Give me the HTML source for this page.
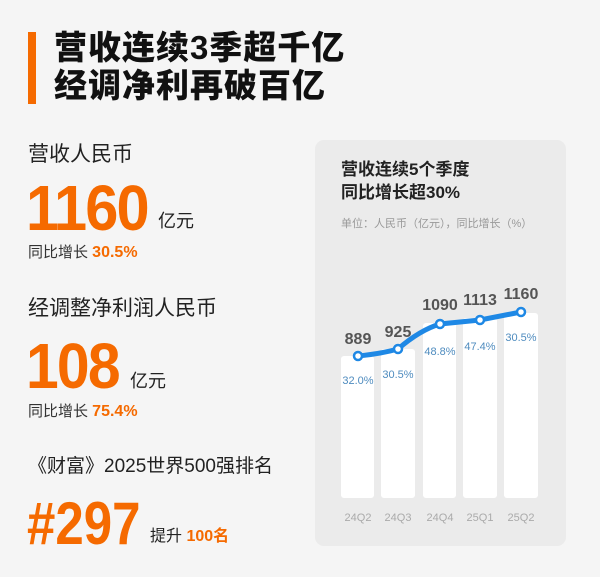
<!DOCTYPE html>
<html><head><meta charset="utf-8"><style>
body{margin:0;width:600px;height:577px;background:#f5f5f5;font-family:"Liberation Sans","Noto Sans CJK SC",sans-serif;position:relative;overflow:hidden}
.a{position:absolute;white-space:nowrap;line-height:1}
.o{color:#f56a00;font-weight:bold}
.n{transform-origin:left top}
</style></head><body>
<div class="a" style="left:28px;top:32px;width:8px;height:72px;background:#f56a00"></div>
<div class="a" style="left:54px;top:31px;font-size:33px;font-weight:900;color:#111;letter-spacing:1px">营收连续3季超千亿</div>
<div class="a" style="left:54px;top:69px;font-size:33px;font-weight:900;color:#111;letter-spacing:1px">经调净利再破百亿</div>

<div class="a" style="left:28px;top:144px;font-size:21px;color:#222">营收人民币</div>
<div class="a o n" style="left:26px;top:176px;font-size:64px;letter-spacing:-2px;transform:scaleX(0.93)">1160</div>
<div class="a" style="left:158px;top:212px;font-size:18px;color:#222">亿元</div>
<div class="a" style="left:28px;top:245px;font-size:15px;color:#333">同比增长 <span class="o" style="font-size:16px">30.5%</span></div>

<div class="a" style="left:28px;top:298px;font-size:21px;color:#222">经调整净利润人民币</div>
<div class="a o n" style="left:26px;top:334px;font-size:64px;letter-spacing:-2px;transform:scaleX(0.92)">108</div>
<div class="a" style="left:130px;top:372px;font-size:18px;color:#222">亿元</div>
<div class="a" style="left:28px;top:404px;font-size:15px;color:#333">同比增长 <span class="o" style="font-size:16px">75.4%</span></div>

<div class="a" style="left:28px;top:457px;font-size:19px;color:#222">《财富》2025世界500强排名</div>
<div class="a o n" style="left:27px;top:494px;font-size:60px;transform:scaleX(0.85)">#297</div>
<div class="a" style="left:150px;top:529px;font-size:16px;color:#222">提升 <span class="o">100名</span></div>

<div class="a" style="left:315px;top:140px;width:251px;height:406px;background:#ebebeb;border-radius:9px"></div>
<div class="a" style="left:341px;top:161px;font-size:17px;font-weight:bold;color:#222">营收连续5个季度</div>
<div class="a" style="left:341px;top:184px;font-size:17px;font-weight:bold;color:#222">同比增长超30%</div>
<div class="a" style="left:341px;top:219px;font-size:11px;color:#999">单位：人民币（亿元），同比增长（%）</div>

<svg class="a" style="left:0;top:0" width="600" height="577">
<g fill="#fff">
<rect x="341" y="356" width="33" height="142" rx="3"/>
<rect x="381" y="349" width="34" height="149" rx="3"/>
<rect x="423" y="323" width="33" height="175" rx="3"/>
<rect x="463" y="318" width="34" height="180" rx="3"/>
<rect x="504" y="313" width="34" height="185" rx="3"/>
</g>
<path d="M358 356 Q380 354 398 349 Q420 330 440 324 L480 320 L521 312" fill="none" stroke="#1e88e5" stroke-width="5" stroke-linecap="round"/>
<g fill="#fff" stroke="#1e88e5" stroke-width="2.5">
<circle cx="358" cy="356" r="4"/><circle cx="398" cy="349" r="4"/><circle cx="440" cy="324" r="4"/><circle cx="480" cy="320" r="4"/><circle cx="521" cy="312" r="4"/>
</g>
<g font-family="Liberation Sans,sans-serif" font-weight="bold" font-size="16" fill="#555" text-anchor="middle">
<text x="358" y="344">889</text><text x="398" y="337">925</text><text x="440" y="310">1090</text><text x="480" y="305">1113</text><text x="521" y="299">1160</text>
</g>
<g font-family="Liberation Sans,sans-serif" font-size="11" fill="#4f8cbf" text-anchor="middle">
<text x="358" y="384">32.0%</text><text x="398" y="378">30.5%</text><text x="440" y="355">48.8%</text><text x="480" y="350">47.4%</text><text x="521" y="341">30.5%</text>
</g>
<g font-family="Liberation Sans,sans-serif" font-size="11" fill="#aaa" text-anchor="middle">
<text x="358" y="521">24Q2</text><text x="398" y="521">24Q3</text><text x="440" y="521">24Q4</text><text x="480" y="521">25Q1</text><text x="521" y="521">25Q2</text>
</g>
</svg>
</body></html>
